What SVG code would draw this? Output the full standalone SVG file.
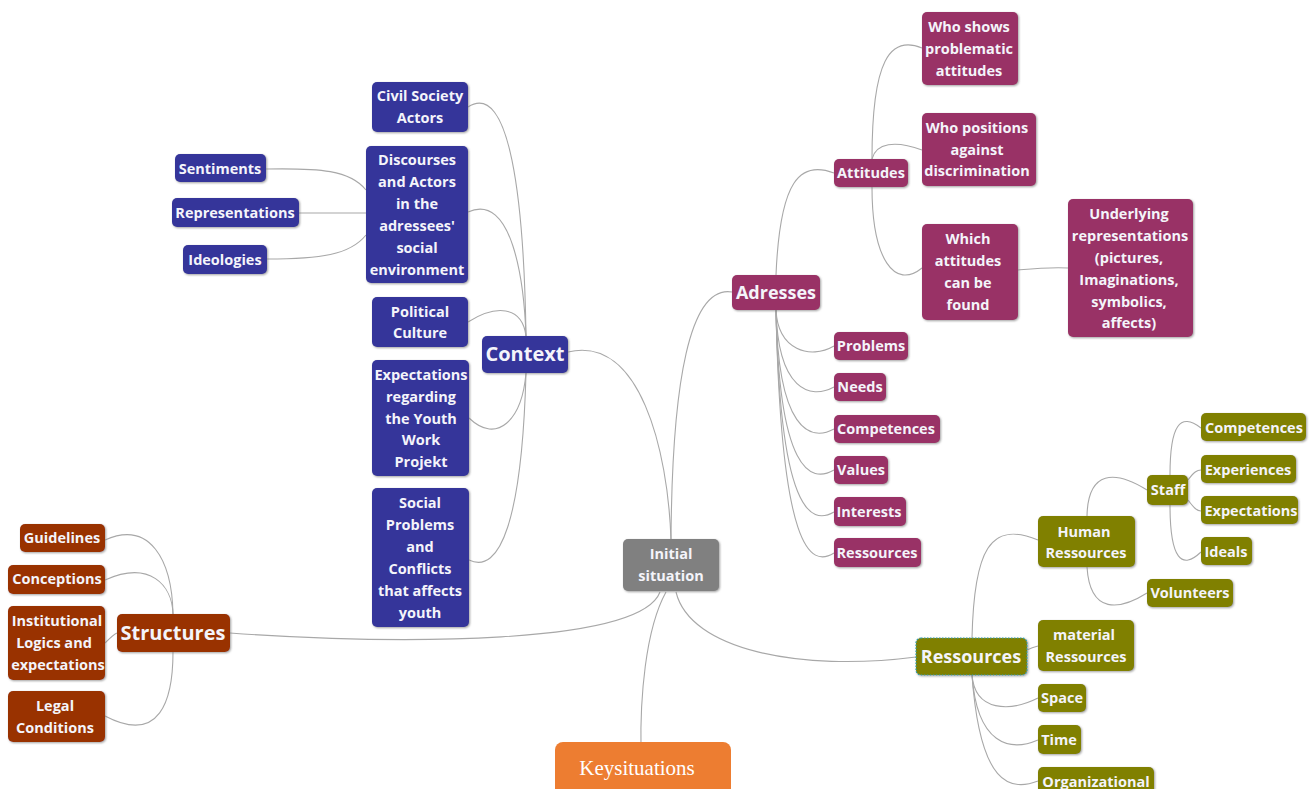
<svg xmlns="http://www.w3.org/2000/svg" width="1316" height="789" viewBox="0 0 1316 789">
<defs>
<filter id="sh" x="-10%" y="-10%" width="130%" height="130%">
<feDropShadow dx="1" dy="1" stdDeviation="0.8" flood-color="#777" flood-opacity="0.7"/>
</filter>
<style>
.n rect{filter:url(#sh);}
.blue rect{fill:#35359a;}
.mag rect{fill:#993366;}
.brn rect{fill:#993300;}
.olv rect{fill:#808000;}
.gry rect{fill:#808080;}
text{font-family:"Open Sans","Noto Sans","DejaVu Sans",sans-serif;font-weight:bold;font-size:14.5px;fill:#f4f4fa;text-anchor:middle;}
.big{font-size:20px;}
.mid{font-size:18px;}
.key{font-family:"Liberation Serif","Times New Roman",serif;font-weight:normal;font-size:21px;fill:#fff;}
#connectors path{fill:none;stroke:#a8a8a8;stroke-width:1.1;}
</style>
</defs>
<rect width="1316" height="789" fill="#fff"/>
<g id="connectors">
<!-- main -->
<path d="M568,352 C 640,335 668,450 671,540"/>
<path d="M671,540 C 672,380 690,285 732,292"/>
<path d="M660,592 C 640,645 400,645 230,633"/>
<path d="M676,592 C 690,650 800,672 916,657"/>
<path d="M666,592 C 645,630 640,700 641,750"/>
<!-- context -->
<path d="M468,107 C 510,80 524,200 526,336"/>
<path d="M468,212 C 512,192 524,280 526,336"/>
<path d="M468,322 C 495,305 522,305 526,336"/>
<path d="M469,418 C 497,445 522,420 526,373"/>
<path d="M469,560 C 500,575 522,520 526,373"/>
<path d="M266,169 C 320,168 350,170 366,190"/>
<path d="M299,213 L 366,213"/>
<path d="M267,259 C 320,259 350,255 366,235"/>
<!-- structures -->
<path d="M105,540 C 150,520 172,560 173,614"/>
<path d="M105,580 C 150,560 172,585 173,614"/>
<path d="M105,643 C 110,638 114,634 117,633"/>
<path d="M105,716 C 160,745 173,700 173,652"/>
<!-- adresses -->
<path d="M776,275 C 780,180 800,160 834,173"/>
<path d="M776,310 C 778,350 810,360 834,346"/>
<path d="M776,310 C 778,390 810,400 834,387"/>
<path d="M776,310 C 778,430 810,442 834,429"/>
<path d="M776,310 C 779,470 810,484 834,470"/>
<path d="M776,310 C 780,510 810,526 834,512"/>
<path d="M776,310 C 781,550 810,568 834,553"/>
<path d="M872,159 C 872,60 890,35 922,48"/>
<path d="M872,159 C 876,143 895,140 922,150"/>
<path d="M872,187 C 872,260 895,290 922,268"/>
<path d="M1018,270 C 1040,268 1050,267 1068,268"/>
<!-- ressources -->
<path d="M972,638 C 974,550 990,520 1038,540"/>
<path d="M1027,650 C 1031,648 1034,647 1038,646"/>
<path d="M972,675 C 975,712 1010,712 1038,698"/>
<path d="M972,675 C 977,745 1010,752 1038,740"/>
<path d="M972,675 C 980,785 1010,792 1038,781"/>
<path d="M1087,516 C 1088,470 1115,470 1147,490"/>
<path d="M1087,567 C 1090,615 1120,610 1147,593"/>
<path d="M1170,475 C 1170,425 1180,412 1201,428"/>
<path d="M1188,480 C 1194,472 1197,470 1201,470"/>
<path d="M1188,500 C 1194,508 1197,511 1201,511"/>
<path d="M1170,505 C 1170,560 1182,570 1201,552"/>
</g>

<!-- center -->
<g id="initial" class="n gry"><rect x="623" y="539" width="96" height="52" rx="5"/><text x="671" y="559">Initial</text><text x="671" y="581">situation</text></g>
<g id="keysituations"><rect x="555" y="742" width="176" height="60" rx="8" fill="#ed7d31"/><text class="key" x="637" y="775">Keysituations</text></g>

<!-- context branch -->
<g id="context" class="n blue"><rect x="482" y="336" width="86" height="37" rx="5"/><text class="big" x="525" y="361">Context</text></g>
<g id="civil" class="n blue"><rect x="372" y="82" width="96" height="50" rx="5"/><text x="420" y="101">Civil Society</text><text x="420" y="123">Actors</text></g>
<g id="discourses" class="n blue"><rect x="366" y="146" width="102" height="137" rx="5"/><text x="417" y="165">Discourses</text><text x="417" y="187">and Actors</text><text x="417" y="209">in the</text><text x="417" y="231">adressees'</text><text x="417" y="253">social</text><text x="417" y="275">environment</text></g>
<g id="sentiments" class="n blue"><rect x="175" y="154" width="91" height="28" rx="5"/><text x="220" y="174">Sentiments</text></g>
<g id="representations" class="n blue"><rect x="172" y="198" width="127" height="29" rx="5"/><text x="235" y="218">Representations</text></g>
<g id="ideologies" class="n blue"><rect x="183" y="245" width="84" height="29" rx="5"/><text x="225" y="265">Ideologies</text></g>
<g id="political" class="n blue"><rect x="372" y="297" width="96" height="50" rx="5"/><text x="420" y="317">Political</text><text x="420" y="338">Culture</text></g>
<g id="expectations" class="n blue"><rect x="372" y="360" width="97" height="116" rx="5"/><text x="421" y="380">Expectations</text><text x="421" y="402">regarding</text><text x="421" y="424">the Youth</text><text x="421" y="445">Work</text><text x="421" y="467">Projekt</text></g>
<g id="socialproblems" class="n blue"><rect x="372" y="488" width="97" height="139" rx="5"/><text x="420" y="508">Social</text><text x="420" y="530">Problems</text><text x="420" y="552">and</text><text x="420" y="574">Conflicts</text><text x="420" y="596">that affects</text><text x="420" y="618">youth</text></g>

<!-- structures branch -->
<g id="structures" class="n brn"><rect x="117" y="614" width="113" height="38" rx="5"/><text class="big" x="173" y="640">Structures</text></g>
<g id="guidelines" class="n brn"><rect x="20" y="524" width="85" height="28" rx="5"/><text x="62" y="543">Guidelines</text></g>
<g id="conceptions" class="n brn"><rect x="8" y="565" width="97" height="29" rx="5"/><text x="57" y="584">Conceptions</text></g>
<g id="institutional" class="n brn"><rect x="8" y="606" width="97" height="74" rx="5"/><text x="57" y="626">Institutional</text><text x="54" y="648">Logics and</text><text x="58" y="670">expectations</text></g>
<g id="legal" class="n brn"><rect x="8" y="691" width="97" height="51" rx="5"/><text x="55" y="711">Legal</text><text x="55" y="733">Conditions</text></g>

<!-- adresses branch -->
<g id="adresses" class="n mag"><rect x="732" y="275" width="88" height="35" rx="5"/><text class="mid" x="776" y="299">Adresses</text></g>
<g id="attitudes" class="n mag"><rect x="834" y="159" width="74" height="28" rx="5"/><text x="871" y="178">Attitudes</text></g>
<g id="whoshows" class="n mag"><rect x="922" y="12" width="96" height="73" rx="5"/><text x="969" y="32">Who shows</text><text x="969" y="54">problematic</text><text x="969" y="76">attitudes</text></g>
<g id="whopositions" class="n mag"><rect x="922" y="113" width="114" height="73" rx="5"/><text x="977" y="133">Who positions</text><text x="977" y="155">against</text><text x="977" y="176">discrimination</text></g>
<g id="whichattitudes" class="n mag"><rect x="922" y="224" width="96" height="96" rx="5"/><text x="968" y="244">Which</text><text x="968" y="266">attitudes</text><text x="968" y="288">can be</text><text x="968" y="310">found</text></g>
<g id="underlying" class="n mag"><rect x="1068" y="199" width="125" height="138" rx="5"/><text x="1129" y="219">Underlying</text><text x="1130" y="241">representations</text><text x="1129" y="263">(pictures,</text><text x="1129" y="285">Imaginations,</text><text x="1129" y="307">symbolics,</text><text x="1129" y="328">affects)</text></g>
<g id="problems" class="n mag"><rect x="834" y="332" width="74" height="28" rx="5"/><text x="871" y="351">Problems</text></g>
<g id="needs" class="n mag"><rect x="834" y="373" width="52" height="28" rx="5"/><text x="860" y="392">Needs</text></g>
<g id="competencesA" class="n mag"><rect x="834" y="415" width="106" height="28" rx="5"/><text x="886" y="434">Competences</text></g>
<g id="values" class="n mag"><rect x="834" y="456" width="54" height="28" rx="5"/><text x="861" y="475">Values</text></g>
<g id="interests" class="n mag"><rect x="834" y="497" width="72" height="29" rx="5"/><text x="869" y="517">Interests</text></g>
<g id="ressourcesA" class="n mag"><rect x="834" y="538" width="87" height="29" rx="5"/><text x="877" y="558">Ressources</text></g>

<!-- ressources branch -->
<g id="ressources" class="n olv"><rect x="916" y="638" width="111" height="37" rx="5" stroke="#2aa0b0" stroke-width="1.2" stroke-dasharray="1.5 1.5"/><text class="mid" x="971" y="663">Ressources</text></g>
<g id="human" class="n olv"><rect x="1038" y="516" width="97" height="51" rx="5"/><text x="1084" y="537">Human</text><text x="1086" y="558">Ressources</text></g>
<g id="staff" class="n olv"><rect x="1147" y="475" width="41" height="30" rx="5"/><text x="1168" y="495">Staff</text></g>
<g id="competencesR" class="n olv"><rect x="1201" y="413" width="105" height="28" rx="5"/><text x="1254" y="433">Competences</text></g>
<g id="experiences" class="n olv"><rect x="1201" y="455" width="95" height="28" rx="5"/><text x="1248" y="475">Experiences</text></g>
<g id="expectationsR" class="n olv"><rect x="1201" y="496" width="97" height="28" rx="5"/><text x="1251" y="516">Expectations</text></g>
<g id="ideals" class="n olv"><rect x="1201" y="537" width="51" height="28" rx="5"/><text x="1226" y="557">Ideals</text></g>
<g id="volunteers" class="n olv"><rect x="1147" y="579" width="86" height="28" rx="5"/><text x="1190" y="598">Volunteers</text></g>
<g id="material" class="n olv"><rect x="1038" y="620" width="96" height="51" rx="5"/><text x="1084" y="640">material</text><text x="1086" y="662">Ressources</text></g>
<g id="space" class="n olv"><rect x="1038" y="684" width="48" height="28" rx="5"/><text x="1062" y="703">Space</text></g>
<g id="time" class="n olv"><rect x="1038" y="725" width="43" height="29" rx="5"/><text x="1059" y="745">Time</text></g>
<g id="organizational" class="n olv"><rect x="1038" y="767" width="116" height="30" rx="5"/><text x="1096" y="787">Organizational</text></g>
</svg>
